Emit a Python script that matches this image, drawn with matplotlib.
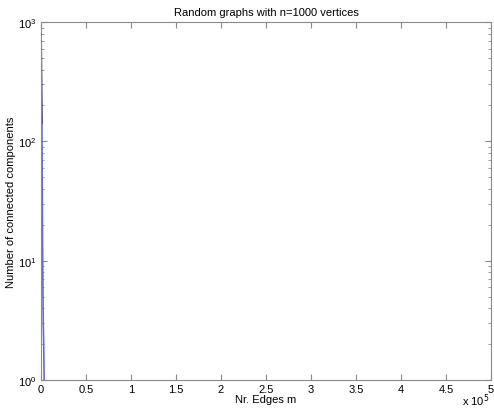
import matplotlib
matplotlib.use("Agg")
import matplotlib.pyplot as plt
from matplotlib.ticker import LogLocator, NullFormatter

# number of edges m vs. number of connected components
edges = [0, 50, 100, 150, 200, 250, 300, 350, 400, 500, 600, 750,
         1000, 1250, 1500, 1750, 2000, 2500, 3000, 3500]
components = [1000, 905, 818, 740, 670, 606, 548, 496, 448, 366, 300, 225,
              140, 62, 30, 14, 8, 3, 2, 1]

x_ticks = [0, 50000, 100000, 150000, 200000, 250000, 300000, 350000,
           400000, 450000, 500000]
x_tick_labels = ["0", "0.5", "1", "1.5", "2", "2.5", "3", "3.5", "4", "4.5", "5"]

plt.rcParams["font.family"] = ["Liberation Sans", "DejaVu Sans"]
plt.rcParams["font.size"] = 8

fig = plt.figure(figsize=(4.94, 4.10), dpi=100)
ax = fig.add_axes([0.083, 0.0707, 0.911, 0.873])

# upper part of the curve reads dark, lower part lighter blue
split = 13
ax.plot(edges[:split], components[:split], color="#10104a", lw=1.2)
ax.plot(edges[split - 1:], components[split - 1:], color="#6a6ac8", lw=1.2)

ax.set_yscale("log")
ax.set_xlim(0, 500000)
ax.set_ylim(1, 1000)
ax.set_xticks(x_ticks)
ax.set_xticklabels(x_tick_labels)
ax.yaxis.set_major_locator(LogLocator(base=10))
ax.yaxis.set_minor_locator(LogLocator(base=10, subs=range(2, 10)))
ax.yaxis.set_minor_formatter(NullFormatter())

grey = "#8a8a8a"
for s in ax.spines.values():
    s.set_color(grey)
    s.set_linewidth(0.8)
ax.tick_params(which="both", direction="in", top=True, right=True,
               color=grey, labelcolor="black")
ax.tick_params(which="major", length=4, pad=3)
ax.tick_params(which="minor", length=2)

ax.set_title("Random graphs with n=1000 vertices", fontsize=8, pad=5)
ax.set_xlabel("Nr. Edges m", labelpad=0)
ax.set_ylabel("Number of connected components", labelpad=2)
fig.text(0.99, 0.003, r"x 10$^5$", ha="right", va="bottom", fontsize=8)

fig.savefig("out.png", dpi=100)
